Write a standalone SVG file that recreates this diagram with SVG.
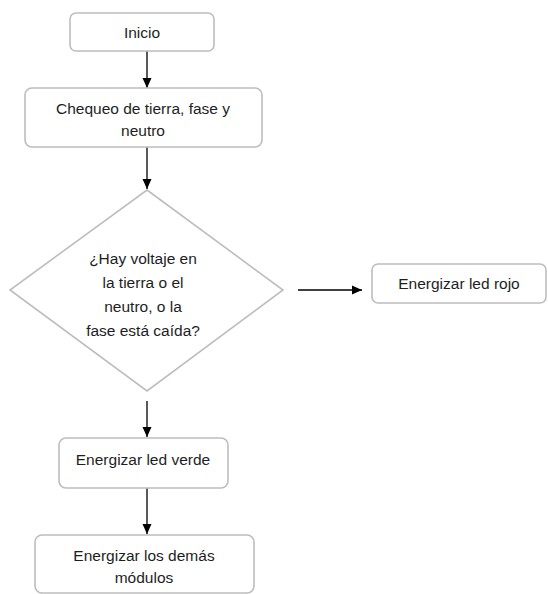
<svg xmlns="http://www.w3.org/2000/svg" width="548" height="594" viewBox="0 0 548 594">
<style>
.box{fill:#fff;stroke:#bdbdbd;stroke-width:1.6}
.t{font-family:"Liberation Sans",Arial,sans-serif;font-size:15.5px;fill:#1e1e1e;text-anchor:middle;dominant-baseline:central}
.c{stroke:#000;stroke-width:1.3;fill:none;marker-end:url(#ah)}
</style>
<defs>
<marker id="ah" markerWidth="12" markerHeight="12" refX="10" refY="5.5" orient="auto" markerUnits="userSpaceOnUse">
<path d="M0,1 L10,5.5 L0,10 Z" fill="#000"/>
</marker>
</defs>
<rect width="548" height="594" fill="#fff"/>
<g id="connectors">
<line class="c" x1="147" y1="51" x2="147" y2="88"/>
<line class="c" x1="147" y1="147" x2="147" y2="189"/>
<line class="c" x1="298" y1="290" x2="362" y2="290"/>
<line class="c" x1="147" y1="401" x2="147" y2="437"/>
<line class="c" x1="147" y1="488" x2="147" y2="534"/>
</g>
<g id="inicio">
<rect class="box" x="70" y="13" width="144" height="38" rx="6"/>
<text class="t" x="142" y="32">Inicio</text>
</g>
<g id="chequeo">
<rect class="box" x="25" y="88" width="237" height="59" rx="7"/>
<text class="t" x="143" y="108">Chequeo de tierra, fase y</text>
<text class="t" x="143" y="130">neutro</text>
</g>
<g id="decision">
<polygon class="box" points="147,190 283,290 147,391 10,290"/>
<text class="t" x="143" y="258">¿Hay voltaje en</text>
<text class="t" x="143" y="282">la tierra o el</text>
<text class="t" x="143" y="306">neutro, o la</text>
<text class="t" x="143" y="330">fase está caída?</text>
</g>
<g id="led-rojo">
<rect class="box" x="372" y="264" width="174" height="39" rx="6"/>
<text class="t" x="459" y="283">Energizar led rojo</text>
</g>
<g id="led-verde">
<rect class="box" x="59" y="438" width="169" height="50" rx="7"/>
<text class="t" x="143" y="459">Energizar led verde</text>
</g>
<g id="modulos">
<rect class="box" x="35" y="535" width="219" height="58" rx="7"/>
<text class="t" x="144" y="555">Energizar los demás</text>
<text class="t" x="144" y="577">módulos</text>
</g>
</svg>
